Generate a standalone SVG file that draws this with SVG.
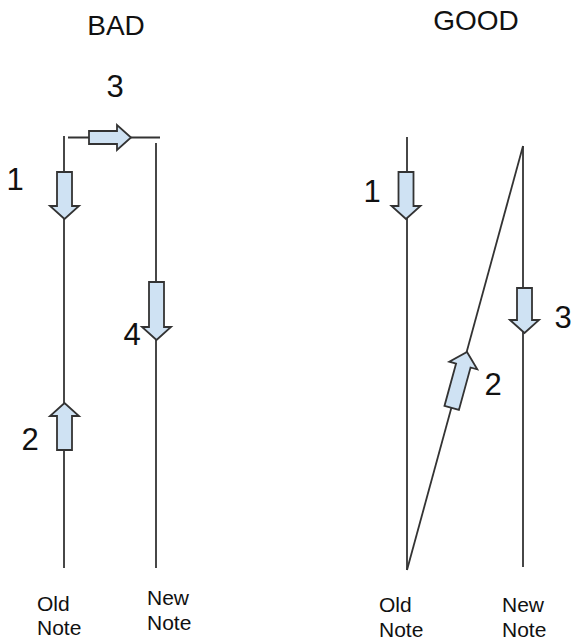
<svg xmlns="http://www.w3.org/2000/svg" width="571" height="644" viewBox="0 0 571 644">
<style>
.ln{stroke:#333;stroke-width:1.8;fill:none}
.ar{fill:#cfe2f3;stroke:#333;stroke-width:1.8;stroke-linejoin:miter}
.t{font-family:"Liberation Sans",Arial,sans-serif;fill:#111}
.title{font-size:28px;text-anchor:middle}
.num{font-size:31px;text-anchor:middle}
.lbl{font-size:21px}
</style>
<defs>
<path id="down" d="M-7.5,0 H7.5 V34 H14.5 L0,47 L-14.5,34 H-7.5 Z"/>
</defs>
<rect width="571" height="644" fill="#fff"/>
<g id="connectors">
<line class="ln" x1="64" y1="136" x2="64" y2="568"/>
<line class="ln" x1="68" y1="137.5" x2="160" y2="137.5"/>
<line class="ln" x1="156" y1="143" x2="156" y2="568"/>
<line class="ln" x1="407" y1="137" x2="407" y2="570"/>
<line class="ln" x1="523" y1="146" x2="523" y2="567"/>
<line class="ln" x1="407" y1="570" x2="523" y2="146"/>
</g>
<g id="bad-title"><text class="t title" x="116" y="35">BAD</text></g>
<g id="good-title"><text class="t title" x="476" y="30">GOOD</text></g>
<g id="bad-arrow1"><use href="#down" class="ar" transform="translate(64.5,172)"/><text class="t num" x="15" y="190">1</text></g>
<g id="bad-arrow2"><use href="#down" class="ar" transform="translate(64.5,450) rotate(180)"/><text class="t num" x="30" y="450">2</text></g>
<g id="bad-arrow3"><path class="ar" d="M89,131 H117 V125 L131,137.5 L117,150 V144 H89 Z"/><text class="t num" x="115" y="97">3</text></g>
<g id="bad-arrow4"><path class="ar" d="M149,282 H164 V327 H171 L156.5,340 L142,327 H149 Z"/><text class="t num" x="132" y="345">4</text></g>
<g id="good-arrow1"><use href="#down" class="ar" transform="translate(406,172)"/><text class="t num" x="372" y="202">1</text></g>
<g id="good-arrow2"><path class="ar" d="M0,0 L14.5,14 H7.5 V58 H-7.5 V14 H-14.5 Z" transform="translate(467,352) rotate(15.3)"/><text class="t num" x="493" y="395">2</text></g>
<g id="good-arrow3"><path class="ar" d="M517,288 H532 V320 H539 L524.5,333 L510,320 H517 Z"/><text class="t num" x="563" y="328">3</text></g>
<g id="bad-old"><text class="t lbl" x="37" y="611">Old</text><text class="t lbl" x="37" y="635">Note</text></g>
<g id="bad-new"><text class="t lbl" x="147" y="605">New</text><text class="t lbl" x="147" y="630">Note</text></g>
<g id="good-old"><text class="t lbl" x="379" y="612">Old</text><text class="t lbl" x="379" y="637">Note</text></g>
<g id="good-new"><text class="t lbl" x="502" y="612">New</text><text class="t lbl" x="502" y="637">Note</text></g>
</svg>
